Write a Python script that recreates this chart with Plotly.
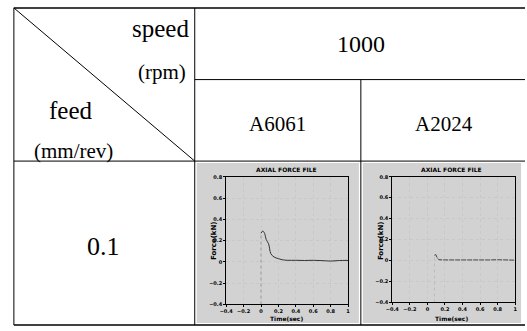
import plotly.graph_objects as go

W, H = 527, 331

# ---- data ----
row_header = "0.1"
speed_value = "1000"
materials = ["A6061", "A2024"]
x_ticks = [-0.4, -0.2, 0, 0.2, 0.4, 0.6, 0.8, 1]
y_ticks = [-0.4, -0.2, 0, 0.2, 0.4, 0.6, 0.8]

time_a6061 = [0, 0.02, 0.04, 0.06, 0.087, 0.113, 0.15, 0.2, 0.245, 0.3, 0.4, 0.5, 0.6, 0.7, 0.8, 0.85, 0.9, 1.0]
force_a6061 = [0.27, 0.29, 0.27, 0.21, 0.17, 0.077, 0.046, 0.03, 0.02, 0.015, 0.015, 0.013, 0.015, 0.012, 0.008, 0.01, 0.013, 0.014]
rise_a6061_t = [0, 0]
rise_a6061_f = [-0.4, 0.27]

time_a2024 = [0.08, 0.095, 0.11, 0.13, 0.2, 0.3, 0.4, 0.5, 0.6, 0.7, 0.8, 0.9, 1.0]
force_a2024 = [0.05, 0.058, 0.03, 0.008, 0.006, 0.005, 0.004, 0.007, 0.004, 0.006, 0.008, 0.005, 0.004]
rise_a2024_t = [0.08, 0.08]
rise_a2024_f = [-0.4, 0.05]


def px(x):
    return x / W


def py(y):
    return 1 - y / H


fig = go.Figure()

fig.add_trace(go.Scatter(x=rise_a6061_t, y=rise_a6061_f, mode="lines",
                         line=dict(color="#999999", width=1, dash="dot"),
                         xaxis="x", yaxis="y", showlegend=False))
fig.add_trace(go.Scatter(x=time_a6061, y=force_a6061, mode="lines",
                         line=dict(color="#333333", width=1, shape="spline"),
                         xaxis="x", yaxis="y", showlegend=False))
fig.add_trace(go.Scatter(x=rise_a2024_t, y=rise_a2024_f, mode="lines",
                         line=dict(color="#bbbbbb", width=1, dash="dot"),
                         xaxis="x2", yaxis="y2", showlegend=False))
fig.add_trace(go.Scatter(x=time_a2024, y=force_a2024, mode="lines",
                         line=dict(color="#444444", width=1, dash="5px,1px"),
                         xaxis="x2", yaxis="y2", showlegend=False))

axis_common = dict(
    showline=True, linecolor="black", linewidth=1, mirror=True,
    showgrid=True, gridcolor="#c8c8c8", griddash="dot", gridwidth=1,
    zeroline=False, ticks="outside", ticklen=2, tickcolor="black",
    tickangle=0,
    tickfont=dict(family="DejaVu Sans", size=5, color="black", weight="bold"),
    fixedrange=True,
)

fig.update_layout(
    width=W, height=H,
    margin=dict(l=0, r=0, t=0, b=0),
    paper_bgcolor="white", plot_bgcolor="white",
    xaxis=dict(domain=[px(223), px(347)], range=[-0.4, 1.0], tickvals=x_ticks,
               anchor="y", **axis_common),
    yaxis=dict(domain=[py(307), py(177)], range=[-0.4, 0.8], tickvals=y_ticks,
               anchor="x", **axis_common),
    xaxis2=dict(domain=[px(392), px(517)], range=[-0.4, 1.0], tickvals=x_ticks,
                anchor="y2", **axis_common),
    yaxis2=dict(domain=[py(305), py(177)], range=[-0.4, 0.8], tickvals=y_ticks,
                anchor="x2", **axis_common),
)

shapes = []
# gray chart panels
for x0, x1 in [(193, 358), (362, 523)]:
    shapes.append(dict(type="rect", xref="paper", yref="paper",
                       x0=px(x0), x1=px(x1), y0=py(326), y1=py(163),
                       fillcolor="#d2d2d2", line=dict(width=0), layer="below"))


def seg(x0, y0, x1, y1, w=1):
    shapes.append(dict(type="line", xref="paper", yref="paper",
                       x0=px(x0), y0=py(y0), x1=px(x1), y1=py(y1),
                       line=dict(color="black", width=w), layer="above"))


seg(7, 5, 527, 5, 1.5)
seg(7, 5, 7, 328)
seg(7, 5, 191, 161)
seg(191, 5, 191, 328)
seg(191, 78, 527, 78)
seg(7, 161, 527, 161)
seg(360, 78, 360, 328)
seg(7, 328, 527, 328, 1.5)
fig.update_layout(shapes=shapes)

serif = "Liberation Serif"
ann = []


def txt(x, y, s, size, xanchor="center", family=serif, color="black", bold=False, angle=0):
    ann.append(dict(x=px(x), y=py(y), xref="paper", yref="paper", text=s,
                    showarrow=False, xanchor=xanchor, yanchor="middle",
                    textangle=angle,
                    font=dict(family=family, size=size, color=color,
                              weight="bold" if bold else "normal")))


txt(187, 26, "speed", 25, xanchor="right")
txt(184, 70, "(rpm)", 21, xanchor="right")
txt(65, 109, "feed", 25)
txt(68, 151, "(mm/rev)", 21)
txt(98, 248, row_header, 26)
txt(360, 42, speed_value, 24)
txt(275, 123, materials[0], 21)
txt(445, 123, materials[1], 21)

# chart titles and axis titles
for cx, yx in [(284, 210), (452, 380)]:
    txt(cx, 170, "AXIAL FORCE FILE", 6, family="DejaVu Sans", bold=True)
    txt(cx, 321, "Time(sec)", 6, family="DejaVu Sans", bold=True)
    txt(yx, 242, "Force(kN)", 7, family="DejaVu Sans", bold=True, angle=-90)

fig.update_layout(annotations=ann)

fig.write_html("out.html")
